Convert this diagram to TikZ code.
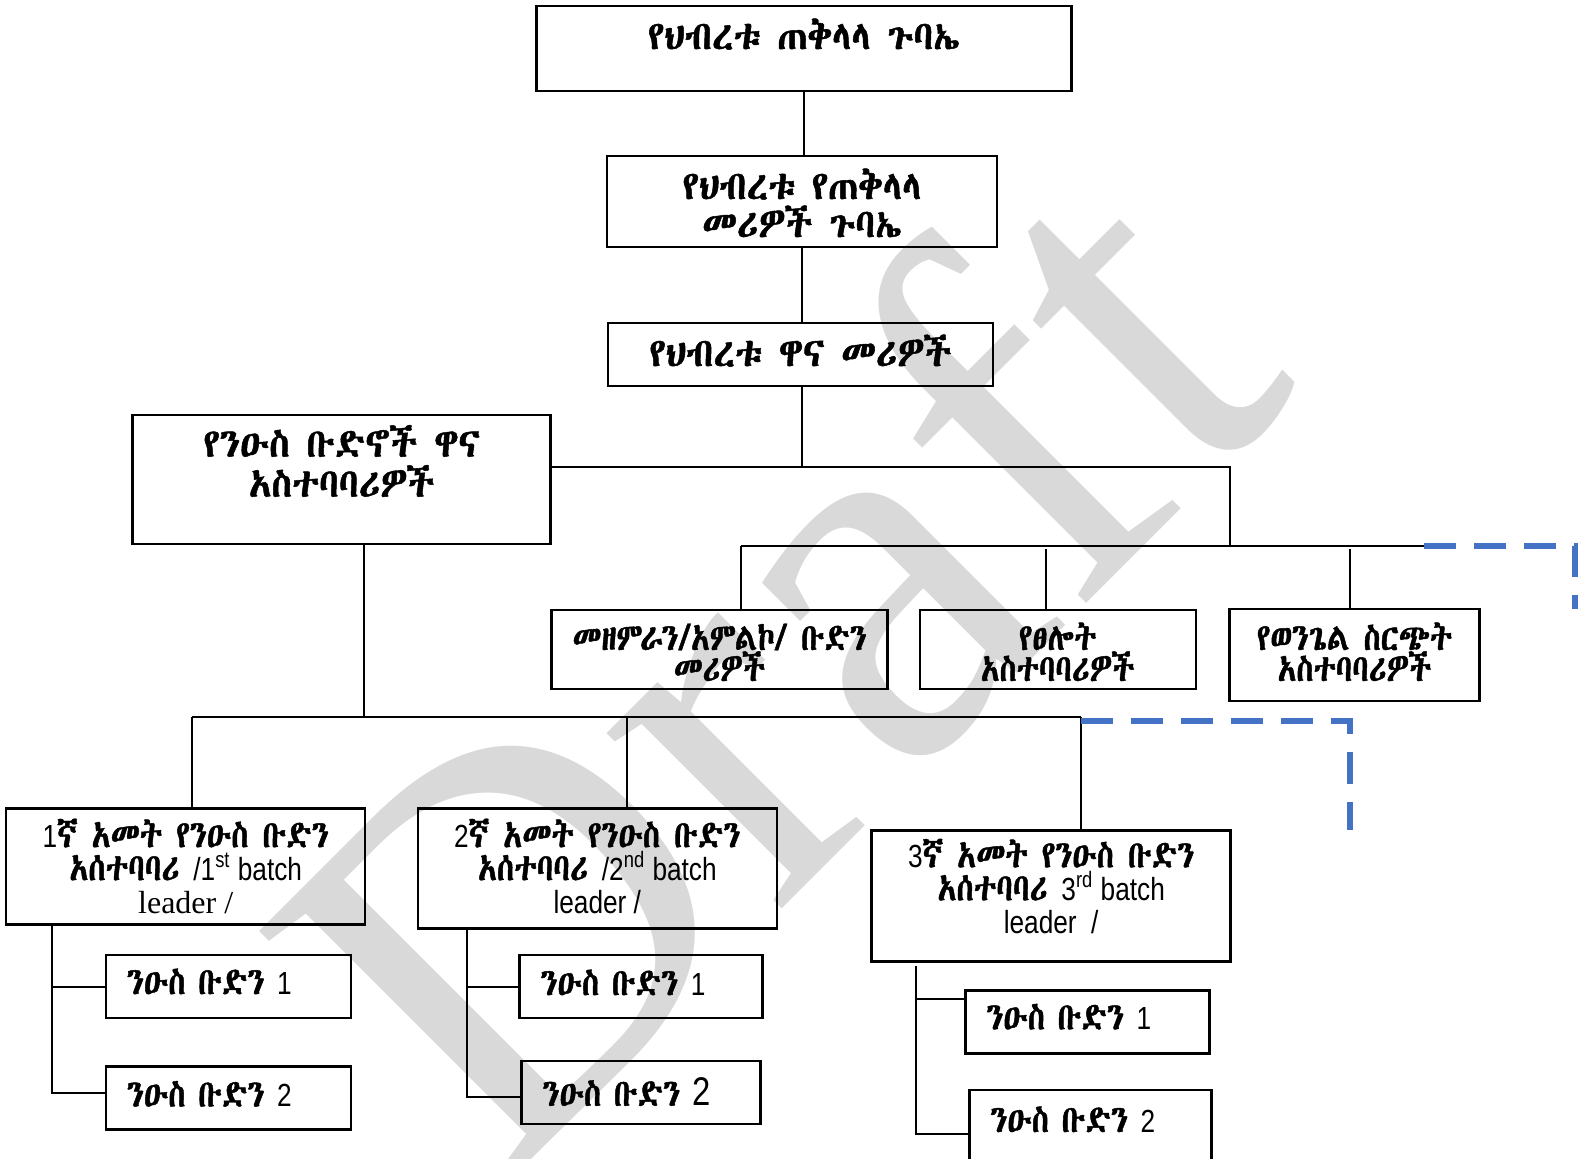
\documentclass[tikz,border=0pt]{standalone}
\usepackage{fontspec}
\usepackage{tikz}
\usetikzlibrary{positioning}

\setmainfont{Liberation Serif}
\newfontfamily\narrowsans[FakeStretch=0.82]{Liberation Sans}
\newcommand\setgeez[1]{%
  \newfontfamily\geez[FakeBold=1.2,FakeStretch=0.93]{#1}%
  \newfontfamily\geeznarrow[FakeBold=1.2,FakeStretch=0.82]{#1}}
\IfFontExistsTF{Abyssinica SIL}{\setgeez{Abyssinica SIL}}{%
  \IfFontExistsTF{Noto Sans Ethiopic}{\setgeez{Noto Sans Ethiopic}}{%
    \IfFontExistsTF{FreeSerif}{\setgeez{FreeSerif}}{\setgeez{DejaVu Sans}}}}
\newcommand\lat[1]{{\narrowsans\fontsize{16}{16.5}\selectfont #1}}

\definecolor{planblue}{RGB}{68,114,196}
\definecolor{wmgray}{RGB}{217,217,217}
\lineskiplimit=-20pt

\begin{document}
\begin{tikzpicture}[x=0.5032pt, y=-0.5032pt,
    box/.style={draw, line width=1.2pt, inner xsep=0pt, inner ysep=0pt, align=center, anchor=north},
    head/.style={box, font=\geez\fontsize{20}{19}\selectfont},
    team/.style={box, font=\geeznarrow\fontsize{18.8}{15.5}\selectfont},
    batch/.style={box, minimum width=179.5pt, font=\geeznarrow\fontsize{19}{16.5}\selectfont},
    sub/.style={draw, line width=1.2pt, anchor=north west, inner xsep=10.5pt, inner ysep=0pt, align=left, font=\geeznarrow\fontsize{19}{19}\selectfont},
    link/.style={line width=1pt},
    plan/.style={draw=planblue, line width=3pt, dash pattern=on 16pt off 9pt},
    watermark/.style={text=wmgray, rotate=45, anchor=base west, inner sep=0pt, font=\rmfamily\fontsize{270}{270}\selectfont}]

    \useasboundingbox (0,0) rectangle (1568,1150.7);
    \clip (0,0) rectangle (1568,1150.7);

    \node[watermark] (draft) at (495,1185) {Draft};

    % top of the tree
    \node[head, minimum width=267.5pt, text height=21.5pt, text depth=21pt] (assembly) at (799,5) {የህብረቱ ጠቅላላ ጉባኤ};
    \node[head, minimum width=195pt, text height=40.5pt, text depth=5pt] (council) at (797,154) {የህብረቱ የጠቅላላ\\መሪዎች ጉባኤ};
    \node[head, minimum width=192.5pt, text height=21.5pt, text depth=10pt] (leaders) at (795.5,320) {የህብረቱ ዋና መሪዎች};
    \node[head, minimum width=209pt, text height=41pt, text depth=23.5pt, font=\geez\fontsize{20}{20}\selectfont] (subheads) at (339.5,411) {የንዑስ ቡድኖች ዋና\\አስተባባሪዎች};

    % ministry teams
    \node[team, minimum width=168pt, text height=35.5pt, text depth=4pt] (choir) at (715,605) {መዘምራን/አምልኮ/ ቡድን\\መሪዎች};
    \node[team, minimum width=138pt, text height=35.5pt, text depth=4pt] (prayer) at (1051,605) {የፀሎት\\አስተባባሪዎች};
    \node[team, minimum width=125pt, text height=36pt, text depth=10pt] (gospel) at (1346,604) {የወንጌል ስርጭት\\አስተባባሪዎች};

    % batch leaders
    \node[batch, text height=52.5pt, text depth=5.5pt] (year1) at (184.5,802) {\lat{1}ኛ አመት የንዑስ ቡድን\\አሰተባባሪ \lat{/1\textsuperscript{st} batch}\\{\rmfamily\fontsize{16}{16.5}\selectfont leader /}};
    \node[batch, text height=52.5pt, text depth=7.5pt] (year2) at (593.5,802) {\lat{2}ኛ አመት የንዑስ ቡድን\\አሰተባባሪ \lat{/2\textsuperscript{nd} batch}\\\lat{leader /}};
    \node[batch, text height=51.5pt, text depth=14pt] (year3) at (1044.5,824) {\lat{3}ኛ አመት የንዑስ ቡድን\\አሰተባባሪ \lat{3\textsuperscript{rd} batch}\\\lat{leader~~/}};

    % small groups
    \node[sub, text width=101.5pt, text height=19.5pt, text depth=12pt] (team11) at (104,948) {ንዑስ ቡድን \lat{1}};
    \node[sub, text width=101.5pt, text height=20pt, text depth=11.5pt, below=23pt of team11.south west, anchor=north west] (team12) {ንዑስ ቡድን \lat{2}};
    \node[sub, text width=100.5pt, text height=20pt, text depth=11.5pt] (team21) at (515,948) {ንዑስ ቡድን \lat{1}};
    \node[sub, text width=98.5pt, text height=22.5pt, text depth=9pt] (team22) at (517,1053) {ንዑስ ቡድን {\narrowsans\fontsize{20}{20}\selectfont 2}};
    \node[sub, text width=101pt, text height=19.5pt, text depth=12pt] (team31) at (958,983) {ንዑስ ቡድን \lat{1}};
    \node[sub, text width=100pt, text height=21pt, text depth=23pt] (team32) at (962,1082) {ንዑስ ቡድን \lat{2}};

    % connectors
    \draw[link] (assembly.south) -- (assembly.south |- council.north);
    \draw[link] (council.south) -- (council.south |- leaders.north);
    \coordinate (split) at (797,464);
    \draw[link] (leaders.south -| split) -- (split) -- (split -| subheads.east);
    \coordinate (drop) at (1222,543);
    \draw[link] (split) -| (drop);
    \coordinate (railL) at (736,543);
    \coordinate (railR) at (1415,543);
    \draw[link] (railL) -- (railR);
    \draw[link] (railL) -- (railL |- choir.north);
    \coordinate (tapP) at (1039,546);
    \draw[link] (tapP) -- (tapP |- prayer.north);
    \coordinate (tapG) at (1341,546);
    \draw[link] (tapG) -- (tapG |- gospel.north);
    \coordinate (planA) at (1565,605);
    \draw[plan] (railR) -| (planA);

    \coordinate (fork) at (362,712);
    \draw[link] (subheads.south -| fork) -- (fork);
    \coordinate (forkL) at (191,712);
    \coordinate (forkM) at (623,712);
    \coordinate (forkR) at (1074,712);
    \draw[link] (forkL) -- (forkR);
    \draw[link] (forkL) -- (forkL |- year1.north);
    \draw[link] (forkM) -- (forkM |- year2.north);
    \draw[link] (forkR) -- (forkR |- year3.north);
    \coordinate (planB) at (1341,825);
    \draw[plan] ([yshift=-2pt]forkR) -| (planB);

    \coordinate (stem1) at (52,0);
    \coordinate (stem2) at (464,0);
    \coordinate (stem3) at (910,0);
    \draw[link] (year1.south -| stem1) |- ([yshift=2.75pt]team12.west);
    \draw[link] (stem1 |- team11.west) -- (team11.west);
    \draw[link] (year2.south -| stem2) |- ([yshift=-2.25pt]team22.west);
    \draw[link] (stem2 |- team21.west) -- (team21.west);
    \draw[link] ([yshift=-1.5pt]year3.south -| stem3) |- (team32.west);
    \draw[link] ([yshift=11.5pt]team31.west -| stem3) -- ([yshift=11.5pt]team31.west);
\end{tikzpicture}
\end{document}
